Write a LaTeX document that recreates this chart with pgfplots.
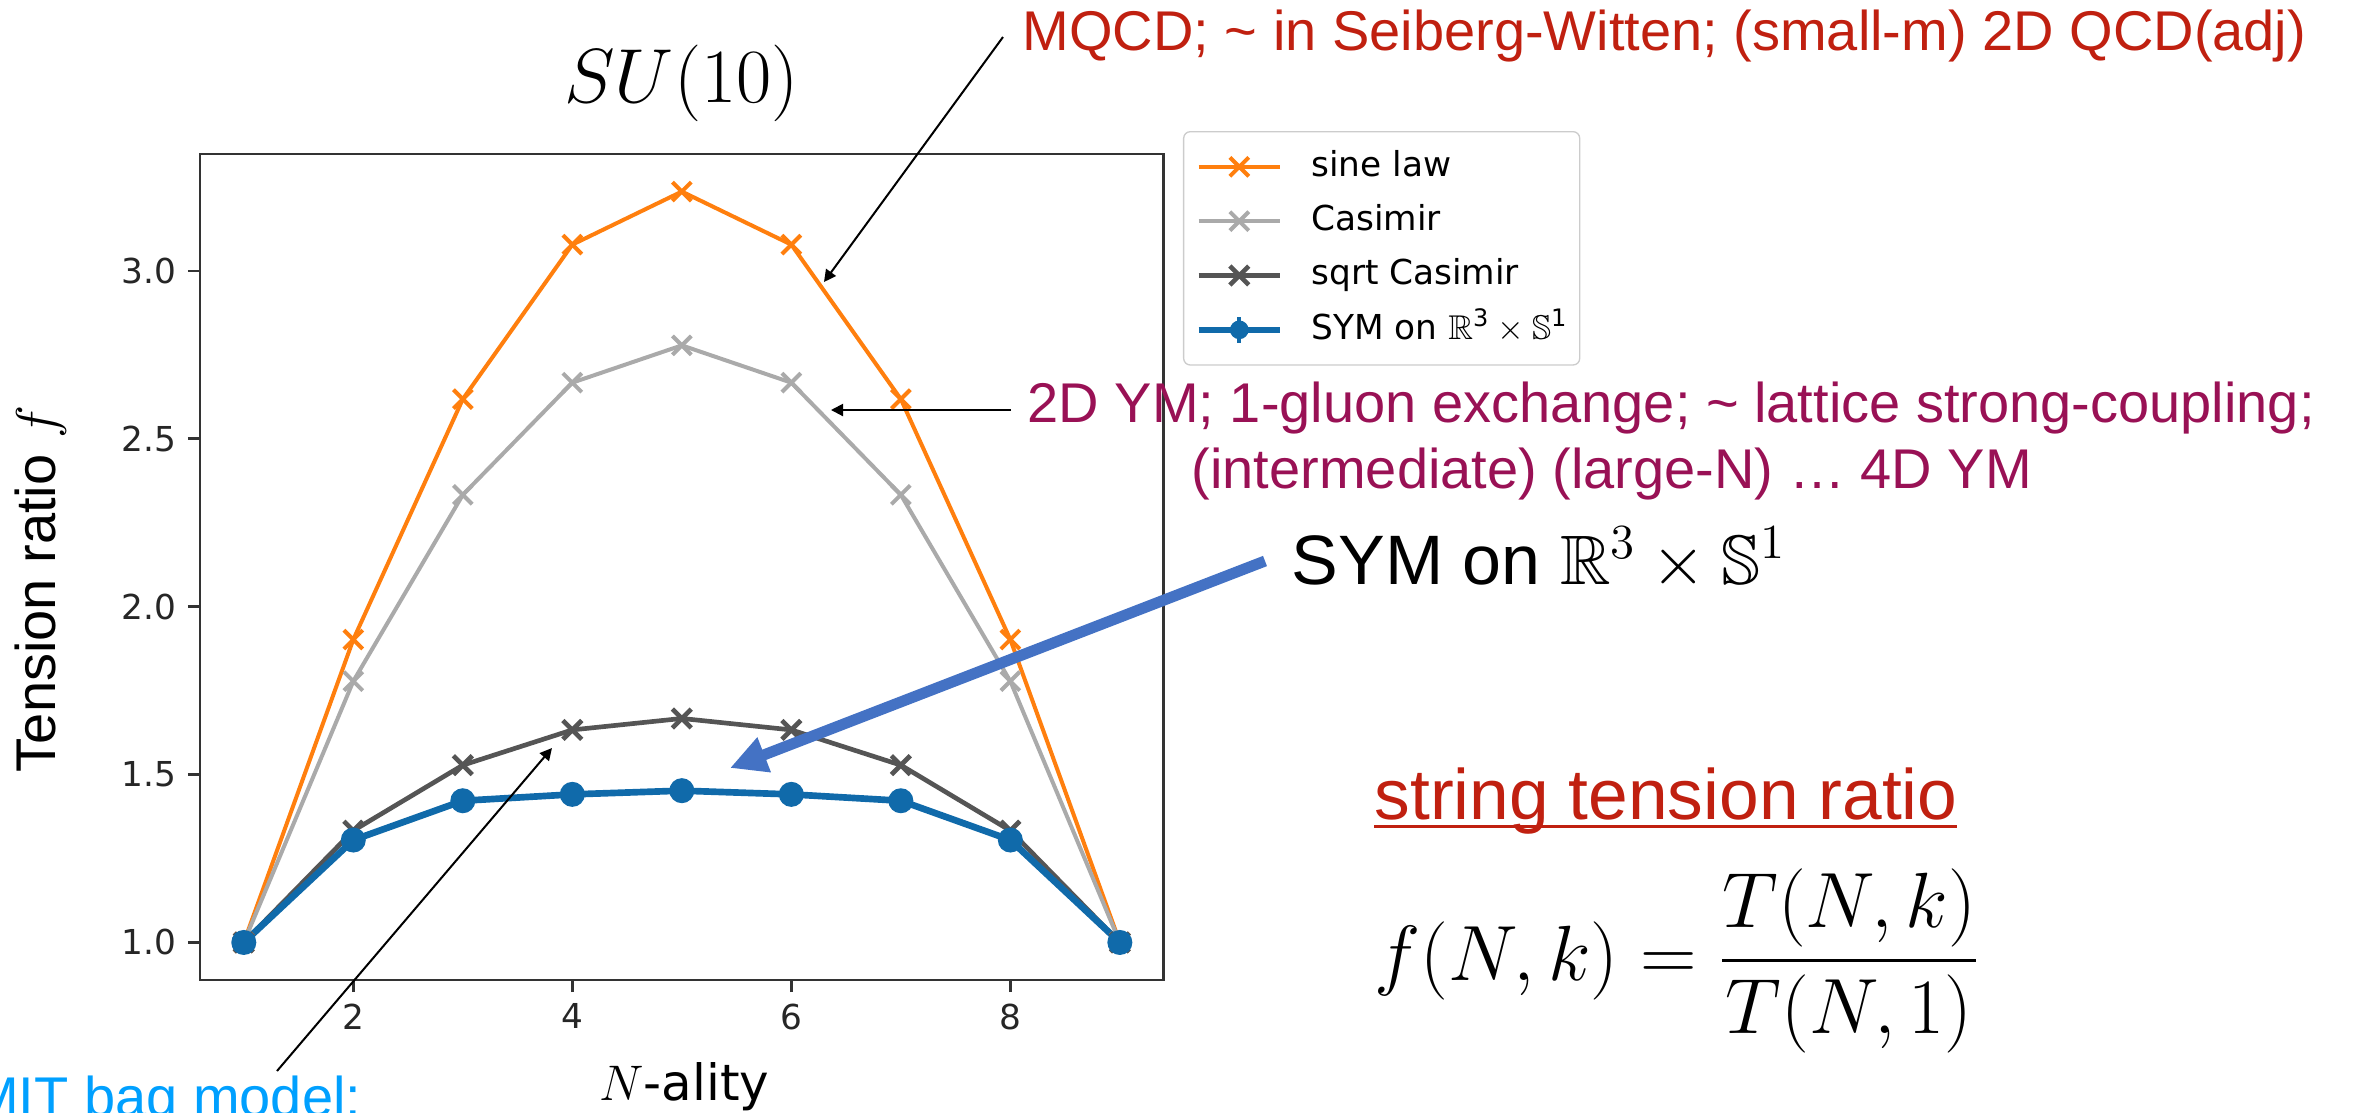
\RequirePackage{fix-cm}
\documentclass[border=0pt]{standalone}
\usepackage{amsmath}
\usepackage{amssymb}
\usepackage[no-math]{fontspec}
\setmainfont{Liberation Sans}
\newfontfamily\djv{DejaVu Sans}
\usepackage{pgfplots}
\pgfplotsset{compat=1.18}
\usetikzlibrary{arrows.meta}
\definecolor{sineC}{HTML}{FF7F0E}
\definecolor{casC}{HTML}{AAAAAA}
\definecolor{sqC}{HTML}{555555}
\definecolor{symC}{RGB}{16,106,170}
\definecolor{mqcdC}{RGB}{192,32,16}
\definecolor{ymC}{RGB}{153,17,85}
\definecolor{mitC}{RGB}{0,160,255}
\definecolor{arrC}{HTML}{4472C4}
\begin{document}
\begin{tikzpicture}
\begin{axis}[
  at={(60pt,-294pt)}, anchor=south west,
  scale only axis, width=289.1pt, height=247.8pt,
  xmin=0.6, xmax=9.4, ymin=0.8882, ymax=3.3479,
  xtick={2,4,6,8}, ytick={1,1.5,2,2.5,3},
  y tick label style={/pgf/number format/fixed, /pgf/number format/fixed zerofill, /pgf/number format/precision=1},
  /pgf/number format/assume math mode=true,
  ticklabel style={font=\djv\fontsize{10.3}{12}\selectfont, text=black!85},
  tick align=outside, tick pos=left,
  major tick length=3.6pt,
  every tick/.style={black!80, line width=0.8pt},
  axis line style={black!80, line width=0.85pt},
  legend style={
    at={(axis description cs:1,1)}, anchor=north west, xshift=5.8pt, yshift=6.9pt,
    draw=black!20, rounded corners=2pt, fill=white,
    inner xsep=3.5pt, inner ysep=5.3pt,
    font=\djv\fontsize{10.3}{12}\selectfont,
    row sep=5.8pt, column sep=8.4pt,
    nodes={inner sep=0pt, text height=8pt, text depth=2.5pt},
  },
  legend cell align=left,
  legend image code/.code={\draw[mark repeat=2,mark phase=2,#1] plot coordinates {(0pt,0pt) (12.2pt,0pt) (24.4pt,0pt)};},
]
\addplot[sineC, line width=1.2pt, mark=x, mark size=4pt, mark options={solid}] coordinates {
(1,1) (2,1.902) (3,2.618) (4,3.078) (5,3.236) (6,3.078) (7,2.618) (8,1.902) (9,1)};
\addlegendentry{sine law}
\addplot[casC, line width=1.2pt, mark=x, mark size=4pt, mark options={solid}] coordinates {
(1,1) (2,1.778) (3,2.333) (4,2.667) (5,2.778) (6,2.667) (7,2.333) (8,1.778) (9,1)};
\addlegendentry{Casimir}
\addplot[sqC, line width=1.4pt, mark=x, mark size=4pt, mark options={solid}] coordinates {
(1,1) (2,1.333) (3,1.528) (4,1.633) (5,1.667) (6,1.633) (7,1.528) (8,1.333) (9,1)};
\addlegendentry{sqrt Casimir}
\addplot[symC, line width=2pt, mark=*, mark size=3.5pt, mark options={solid, fill=symC, line width=0.5pt}, forget plot] coordinates {
(1,1) (2,1.305) (3,1.422) (4,1.441) (5,1.452) (6,1.441) (7,1.422) (8,1.305) (9,1)};
\addlegendimage{legend image code/.code={
  \draw[symC, line width=2pt] (0pt,0pt) -- (24.4pt,0pt);
  \draw[symC, line width=1.2pt] (12.2pt,-3.9pt) -- (12.2pt,3.9pt);
  \fill[symC] (12.2pt,0pt) circle (2.6pt);}}
\addlegendentry{SYM on $\mathbb{R}^{\text{3}}\times\mathbb{S}^{\text{1}}$}
\end{axis}
\begin{scope}[x=0.3pt,y=-0.3pt]
\node[anchor=base, inner sep=0pt, font=\fontsize{23}{27}\selectfont] at (681.5,102) {$SU(10)$};
\node[rotate=90, anchor=base, inner sep=0pt, font=\fontsize{16.8}{20}\selectfont] at (55,589) {Tension ratio $f$};
\node[anchor=base, inner sep=0pt, font=\fontsize{15}{18}\selectfont] at (684.5,1100) {$N$\djv-ality};
\node[anchor=base west, inner sep=0pt, text=mqcdC, font=\fontsize{16.8}{20}\selectfont] at (1022,50) {MQCD; \textasciitilde{} in Seiberg-Witten; (small-m) 2D QCD(adj)};
\node[anchor=base west, inner sep=0pt, text=ymC, font=\fontsize{16.8}{20}\selectfont] at (1027,422) {2D YM; 1-gluon exchange; \textasciitilde{} lattice strong-coupling;};
\node[anchor=base west, inner sep=0pt, text=ymC, font=\fontsize{16.8}{20}\selectfont] at (1191,488) {(intermediate) (large-N) … 4D YM};
\node[anchor=base west, inner sep=0pt, font=\fontsize{21}{25}\selectfont] at (1291,584) {SYM on $\mathbb{R}^3\times\mathbb{S}^1$};
\node[anchor=base west, inner sep=0pt, text=mqcdC, font=\fontsize{21.4}{25}\selectfont] at (1374,819) {string tension ratio};
\draw[mqcdC, line width=0.9pt] (1374,826.5) -- (1957,826.5);
\node[anchor=base west, inner sep=0pt, font=\fontsize{23.5}{28}\selectfont] at (1374,980) {$\displaystyle f(N,k)=\frac{T(N,k)}{T(N,1)}$};
\node[anchor=base east, inner sep=0pt, text=mitC, font=\fontsize{16.8}{20}\selectfont] at (362,1116) {MIT bag model:};
\draw[line width=0.6pt, -{Triangle[length=3.6pt,width=3.6pt]}] (1003,37) -- (824,282);
\draw[line width=0.6pt, -{Triangle[length=3.6pt,width=3.6pt]}] (1011,410) -- (831,410);
\draw[line width=0.6pt, -{Triangle[length=3.6pt,width=3.6pt]}] (277,1071) -- (552,748);
\draw[arrC, line width=3.3pt, -{Triangle[length=11pt,width=10.5pt]}] (1265,561) -- (730,768);
\pgfresetboundingbox
\path[use as bounding box] (0,0) rectangle (2364,1112);
\end{scope}
\end{tikzpicture}
\end{document}
